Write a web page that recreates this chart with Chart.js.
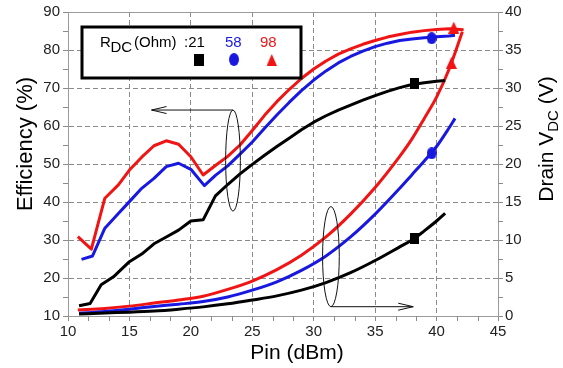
<!DOCTYPE html>
<html><head><meta charset="utf-8">
<script src="https://cdn.jsdelivr.net/npm/chart.js@4.4.0/dist/chart.umd.min.js"></script>
<style>html,body{margin:0;padding:0;background:#fff;}#wrap{width:563px;height:368px;}</style>
</head><body><div id="wrap"><canvas id="c" width="563" height="368"></canvas></div>
<script>
// ---------- data ----------
const pinEffRed   = [10.8,11.9,13.0,14.1,15,16,17,18,19,20,21,22,23,24,25,26,27,28,29,30,31,32,33,34,35,36,37,38,39,40,41,42.2];
const effRed      = [30.9,27.6,41.0,44.5,48.4,51.8,54.8,56.1,55.2,51.9,47.1,49.6,52.0,55.0,58.8,62.8,66.4,69.6,72.5,75.0,77.1,78.9,80.3,81.5,82.5,83.4,84.1,84.7,85.1,85.4,85.6,85.3];
const pinEffBlue  = [11.1,12.0,13.0,14.1,15,16,17,18,19,20,21.1,22,23,24,25,26,27,28,29,30,31,32,33,34,35,36,37,38,39,40,41,41.5];
const effBlue     = [24.9,25.8,33.1,37.0,40.1,43.6,46.2,49.3,50.2,48.6,44.3,47.0,49.5,52.6,55.8,59.4,62.9,66.2,69.3,72.1,74.5,76.6,78.3,79.7,80.9,81.8,82.5,82.9,83.2,83.5,83.7,83.9];
const pinEffBlack = [10.9,11.8,12.7,13.7,15,16,17,18,19,20,21,22,23,24,25,26,27,28,29,30,31,32,33,34,35,36,37,38,39,40,40.7];
const effBlack    = [12.7,13.3,18.2,20.3,24.3,26.3,29.0,30.8,32.6,35.0,35.3,41.6,44.6,47.4,49.9,52.3,54.6,56.8,59.0,61.0,62.7,64.2,65.5,66.8,68.0,69.1,70.1,70.9,71.4,71.8,72.0];

const pinVRed   = [10.8,13,15,17,19,21,23,25,27,29,31,33,35,37,38,39,40,41,42.1];
const vdcRed    = [0.8,1.0,1.3,1.7,2.1,2.6,3.5,4.6,6.1,8.0,10.4,13.4,16.9,21.0,23.3,26.0,28.8,32.4,37.4];
const pinVBlue  = [10.9,13,15,17,19,21,23,25,27,29,31,33,35,37,38,39,40,41,41.5];
const vdcBlue   = [0.35,0.6,0.9,1.25,1.55,1.9,2.5,3.4,4.5,6.0,7.9,10.4,13.4,16.8,18.6,20.4,22.3,24.7,26.0];
const pinVBlack = [10.9,13,15,17,19,21,23,25,27,29,31,33,35,37,38,39,40,40.7];
const vdcBlack  = [0.26,0.4,0.5,0.65,0.9,1.2,1.6,2.1,2.65,3.4,4.4,5.7,7.3,9.1,10.0,11.2,12.5,13.5];

// markers: [black, blue, red]
const rdcLabels   = ['21','58','98'];
const markPinEff  = [38.2,39.6,41.4];
const markEff     = [71.1,83.1,85.9];
const markPinVdc  = [38.2,39.6,41.2];
const markVdc     = [10.2,21.4,33.3];

const xTicks = {min:10,max:45,step:5};
const yTicks = {min:10,max:90,step:10};
const y2Ticks = {min:0,max:40,step:5};

// ---------- styles ----------
const FONT = '"Liberation Sans", Arial, Helvetica, sans-serif';
const RED = '#f01414', BLUE = '#1818e0', BLACK = '#000000';
const GRID = '#8a8a8a', AXIS = '#9a9a9a';

function mkCanvas(w,h,draw){const c=document.createElement('canvas');c.width=w;c.height=h;draw(c.getContext('2d'),w,h);return c;}
const symSquare = mkCanvas(9,11,(g,w,h)=>{g.fillStyle=BLACK;g.fillRect(0,0,w,h);});
const symCircle = mkCanvas(10,12,(g,w,h)=>{g.fillStyle=BLUE;g.beginPath();g.ellipse(w/2,h/2,w/2,h/2,0,0,Math.PI*2);g.fill();});
const symTri    = mkCanvas(11,12,(g,w,h)=>{g.fillStyle=RED;g.beginPath();g.moveTo(w/2,0);g.lineTo(w,h);g.lineTo(0,h);g.closePath();g.fill();});
const symbols = [symSquare, symCircle, symTri];

const pts = (xs,ys)=>xs.map((x,i)=>({x:x,y:ys[i]}));

function lineDs(xs,ys,color,axis,smooth){
  return {type:'line',data:pts(xs,ys),borderColor:color,borderWidth:3,pointRadius:0,fill:false,
    yAxisID:axis,tension:smooth?0.4:0,cubicInterpolationMode:smooth?'monotone':'default',order:2,borderJoinStyle:'round'};
}
const markerDs = [];
for(let i=0;i<3;i++){
  markerDs.push({type:'scatter',data:[{x:markPinEff[i],y:markEff[i]}],yAxisID:'y',pointStyle:symbols[i],pointRadius:6,order:0,showLine:false});
  markerDs.push({type:'scatter',data:[{x:markPinVdc[i],y:markVdc[i]}],yAxisID:'y1',pointStyle:symbols[i],pointRadius:6,order:0,showLine:false});
}

// annotation shapes in data units (left axis for y)
const notes = [
  {cx:23.43, yTop:64.2, yBot:37.6, rx:0.6, arrowFromY:64.2, arrowToX:16.8},
  {cx:31.40, yTop:38.8, yBot:12.45, rx:0.68, arrowFromY:12.45, arrowToX:38.1}
];

function arrow(ctx,x1,y1,x2,y2){
  ctx.beginPath();ctx.moveTo(x1,y1);ctx.lineTo(x2,y2);ctx.stroke();
  const dir = Math.sign(x2-x1);
  ctx.beginPath();ctx.moveTo(x2-dir*15,y2-3.5);ctx.lineTo(x2,y2);ctx.lineTo(x2-dir*15,y2+3.5);ctx.stroke();
}

const decor = {
  id:'decor',
  afterDatasetsDraw(chart){
    const ctx=chart.ctx, xs=chart.scales.x, ys=chart.scales.y;
    ctx.save();ctx.strokeStyle='#111';ctx.lineWidth=1;
    notes.forEach(n=>{
      const cx=xs.getPixelForValue(n.cx), yt=ys.getPixelForValue(n.yTop), yb=ys.getPixelForValue(n.yBot);
      const rx=Math.abs(xs.getPixelForValue(n.cx+n.rx)-cx);
      ctx.beginPath();ctx.ellipse(cx,(yt+yb)/2,rx,(yb-yt)/2,0,0,Math.PI*2);ctx.stroke();
      const ay=ys.getPixelForValue(n.arrowFromY);
      arrow(ctx,cx,ay,xs.getPixelForValue(n.arrowToX),ay);
    });
    ctx.restore();
  },
  afterDraw(chart){
    const ctx=chart.ctx, a=chart.chartArea, xs=chart.scales.x, ys=chart.scales.y, y2=chart.scales.y1;
    ctx.save();
    // top border
    ctx.strokeStyle=AXIS;ctx.lineWidth=1;
    ctx.beginPath();ctx.moveTo(a.left,Math.round(a.top)+0.5);ctx.lineTo(a.right,Math.round(a.top)+0.5);ctx.stroke();
    // minor ticks
    ctx.strokeStyle=GRID;
    ctx.beginPath();
    for(let i=0;i<=21;i++){ if(i%3===0) continue; const p=Math.round(xs.getPixelForValue(xTicks.min+i*5/3))+0.5; ctx.moveTo(p,a.bottom);ctx.lineTo(p,a.bottom+5);}
    for(let v=yTicks.min+yTicks.step/2; v<yTicks.max; v+=yTicks.step){const p=Math.round(ys.getPixelForValue(v))+0.5;ctx.moveTo(a.left-5,p);ctx.lineTo(a.left,p);}
    for(let v=y2Ticks.min+y2Ticks.step/2; v<y2Ticks.max; v+=y2Ticks.step){const p=Math.round(y2.getPixelForValue(v))+0.5;ctx.moveTo(a.right,p);ctx.lineTo(a.right+5,p);}
    ctx.stroke();
    // legend box
    ctx.fillStyle='#fff';ctx.fillRect(82,27,219,51);
    ctx.strokeStyle='#000';ctx.lineWidth=3;ctx.strokeRect(82,27,219,51);
    ctx.textBaseline='alphabetic';ctx.textAlign='left';
    ctx.fillStyle='#000';ctx.font='15px '+FONT;
    ctx.fillText('R',100,47);
    ctx.fillText('DC',110.5,52);
    ctx.fillText('(Ohm)',134,47);
    ctx.fillText(':'+rdcLabels[0],184,47);
    ctx.fillStyle=BLUE;ctx.fillText(rdcLabels[1],225,47);
    ctx.fillStyle=RED;ctx.fillText(rdcLabels[2],260,47);
    ctx.drawImage(symSquare,193.5,53.5,10,12);
    ctx.drawImage(symCircle,229,53,10,13);
    ctx.drawImage(symTri,266.5,54,10.5,12);
    // axis titles
    ctx.fillStyle='#000';
    ctx.font='22px '+FONT;ctx.textAlign='center';ctx.textBaseline='middle';
    ctx.save();ctx.translate(26,144);ctx.rotate(-Math.PI/2);ctx.fillText('Efficiency (%)',0,0);ctx.restore();
    ctx.font='21px '+FONT;
    ctx.fillText('Pin (dBm)',297,353);
    // Drain V_DC (V)
    ctx.save();ctx.translate(546,139);ctx.rotate(-Math.PI/2);
    const f1='21px '+FONT, f2='15px '+FONT;
    ctx.textAlign='left';ctx.textBaseline='alphabetic';
    ctx.font=f1;const w1=ctx.measureText('Drain V').width;const w3=ctx.measureText(' (V)').width;
    ctx.font=f2;const w2=ctx.measureText('DC').width;
    let x0=-(w1+w2+w3)/2;const base=7;
    ctx.font=f1;ctx.fillText('Drain V',x0,base);
    ctx.font=f2;ctx.fillText('DC',x0+w1,base+5);
    ctx.font=f1;ctx.fillText(' (V)',x0+w1+w2,base);
    ctx.restore();
    ctx.restore();
  }
};

Chart.defaults.font.family = FONT;
const edge = (min,max)=>c=>(c.tick && (c.tick.value===min||c.tick.value===max))?'rgba(0,0,0,0)':GRID;

new Chart(document.getElementById('c'),{
  data:{datasets:[
    ...markerDs,
    lineDs(pinEffBlack,effBlack,BLACK,'y',false),
    lineDs(pinEffBlue,effBlue,BLUE,'y',false),
    lineDs(pinEffRed,effRed,RED,'y',false),
    lineDs(pinVBlack,vdcBlack,BLACK,'y1',true),
    lineDs(pinVBlue,vdcBlue,BLUE,'y1',true),
    lineDs(pinVRed,vdcRed,RED,'y1',true)
  ]},
  options:{
    responsive:false,animation:false,devicePixelRatio:1,
    layout:{padding:{top:12,left:0,right:0,bottom:0}},
    plugins:{legend:{display:false},tooltip:{enabled:false}},
    scales:{
      x:{type:'linear',min:xTicks.min,max:xTicks.max,
        ticks:{stepSize:xTicks.step,font:{size:15},color:'#222',padding:2,maxRotation:0},
        grid:{color:edge(xTicks.min,xTicks.max),tickColor:GRID,tickLength:5,lineWidth:1},
        border:{display:true,color:AXIS,dash:[5,3]},
        afterFit(s){s.height=52;}},
      y:{type:'linear',position:'left',min:yTicks.min,max:yTicks.max,
        ticks:{stepSize:yTicks.step,font:{size:15},color:'#222',padding:3},
        grid:{color:edge(yTicks.min,yTicks.max),tickColor:GRID,tickLength:5},
        border:{display:true,color:AXIS,dash:[5,3]},
        afterFit(s){s.width=68;}},
      y1:{type:'linear',position:'right',min:y2Ticks.min,max:y2Ticks.max,
        ticks:{stepSize:y2Ticks.step,font:{size:15},color:'#222',padding:2},
        grid:{drawOnChartArea:false,tickColor:GRID,tickLength:5,color:GRID},
        border:{display:true,color:AXIS},
        afterFit(s){s.width=65;}}
    }
  },
  plugins:[decor]
});
</script></body></html>
